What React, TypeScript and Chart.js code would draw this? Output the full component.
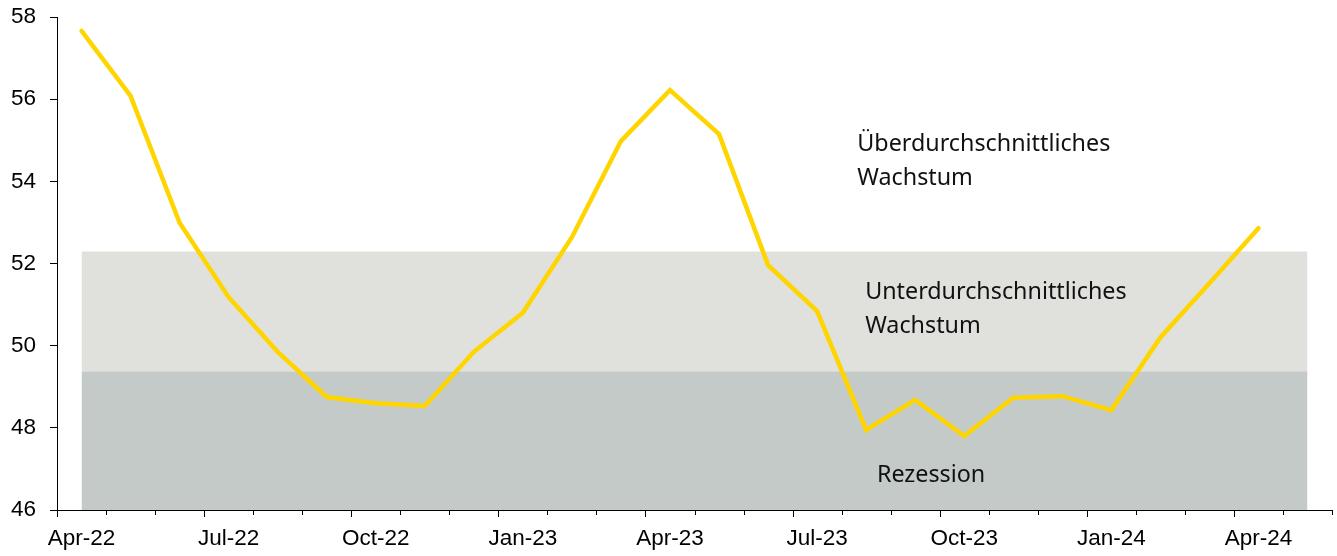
import React, { useEffect, useRef } from "react";
import { Chart, registerables } from "chart.js";

Chart.register(...registerables);

const categories = [
  "Apr-22", "May-22", "Jun-22", "Jul-22", "Aug-22", "Sep-22", "Oct-22", "Nov-22", "Dec-22",
  "Jan-23", "Feb-23", "Mar-23", "Apr-23", "May-23", "Jun-23", "Jul-23", "Aug-23", "Sep-23",
  "Oct-23", "Nov-23", "Dec-23", "Jan-24", "Feb-24", "Mar-24", "Apr-24", "May-24",
];

const pmiValues: (number | null)[] = [
  57.66, 56.08, 52.99, 51.18, 49.85, 48.75, 48.6, 48.53, 49.85,
  50.8, 52.64, 54.98, 56.22, 55.15, 51.96, 50.84, 47.95, 48.68,
  47.8, 48.73, 48.77, 48.43, 50.2, 51.52, 52.86, null,
];

const recessionLevel = 49.38;
const belowAvgLevel = 52.29;

const yTicks = [46, 48, 50, 52, 54, 56, 58];

const annotations = [
  { lines: ["Überdurchschnittliches", "Wachstum"], xIndex: 15.82, yValue: 54.9 },
  { lines: ["Unterdurchschnittliches", "Wachstum"], xIndex: 15.98, yValue: 51.3 },
  { lines: ["Rezession"], xIndex: 16.22, yValue: 46.85 },
];

const annotationPlugin = {
  id: "annotationText",
  afterDatasetsDraw(chart: any) {
    const { ctx, scales } = chart;
    const xs = scales.x;
    const ys = scales.y;
    ctx.save();
    ctx.fillStyle = "#111";
    ctx.font = '23.3px "Noto Sans"';
    ctx.textBaseline = "middle";
    ctx.textAlign = "left";
    const step = xs.getPixelForValue(1) - xs.getPixelForValue(0);
    annotations.forEach((a) => {
      const x = xs.getPixelForValue(0) + a.xIndex * step;
      const y = ys.getPixelForValue(a.yValue);
      a.lines.forEach((line, i) => {
        ctx.fillText(line, x, y + i * 34);
      });
    });
    ctx.restore();
  },
};

const tickPlugin = {
  id: "xTicks",
  afterDraw(chart: any) {
    const { ctx, chartArea } = chart;
    const n = categories.length;
    const w = (chartArea.right - chartArea.left) / n;
    ctx.save();
    ctx.strokeStyle = "#000";
    ctx.lineWidth = 1;
    for (let i = 0; i <= n; i++) {
      const x = Math.round(chartArea.left + i * w) + 0.5;
      const len = i % 3 === 0 ? 7 : 5;
      ctx.beginPath();
      ctx.moveTo(x, chartArea.bottom);
      ctx.lineTo(x, chartArea.bottom + len);
      ctx.stroke();
    }
    ctx.restore();
  },
};

export default function App() {
  const ref = useRef<HTMLCanvasElement | null>(null);

  useEffect(() => {
    document.body.style.margin = "0";
    if (!ref.current) return;
    const chart = new Chart(ref.current, {
      type: "line",
      data: {
        labels: categories,
        datasets: [
          {
            label: "Rezession",
            data: categories.map(() => recessionLevel),
            borderWidth: 0,
            pointRadius: 0,
            backgroundColor: "#C4CAC7",
            fill: "start",
            order: 3,
          },
          {
            label: "Unterdurchschnittlich",
            data: categories.map(() => belowAvgLevel),
            borderWidth: 0,
            pointRadius: 0,
            backgroundColor: "#E0E0DC",
            fill: "-1",
            order: 2,
          },
          {
            label: "PMI",
            data: pmiValues,
            borderColor: "#FFD500",
            borderWidth: 4.5,
            borderCapStyle: "round",
            borderJoinStyle: "miter",
            pointRadius: 0,
            fill: false,
            tension: 0,
            order: 1,
          },
        ],
      },
      options: {
        animation: false,
        responsive: false,
        maintainAspectRatio: false,
        layout: { padding: { top: 17, right: 5, left: 0, bottom: 0 } },
        plugins: {
          legend: { display: false },
          tooltip: { enabled: false },
        },
        scales: {
          x: {
            type: "category",
            offset: true,
            grid: { display: false, offset: true, drawOnChartArea: false },
            border: { display: true, color: "#000", width: 1 },
            ticks: {
              autoSkip: false,
              maxRotation: 0,
              minRotation: 0,
              padding: 7,
              color: "#000",
              font: { family: '"Liberation Sans", Arial', size: 22.5 },
              callback: (_v: any, i: number) => (i % 3 === 0 ? categories[i] : ""),
            },
            afterFit: (s: any) => {
              s.height = 46;
              s.paddingLeft = 0;
              s.paddingRight = 0;
            },
          },
          y: {
            min: 46,
            max: 58,
            afterBuildTicks: (s: any) => {
              s.ticks = yTicks.map((v) => ({ value: v }));
            },
            grid: { display: true, drawOnChartArea: false, tickLength: 7, color: "#000" },
            border: { display: true, color: "#000", width: 1 },
            ticks: {
              padding: 14,
              color: "#000",
              font: { family: '"Liberation Sans", Arial', size: 22.5 },
            },
            afterFit: (s: any) => {
              s.width = 57;
              s.paddingTop = 0;
              s.paddingBottom = 0;
            },
          },
        },
      },
      plugins: [annotationPlugin, tickPlugin],
    } as any);
    return () => chart.destroy();
  }, []);

  return <canvas ref={ref} width={1337} height={556} style={{ display: "block" }} />;
}
